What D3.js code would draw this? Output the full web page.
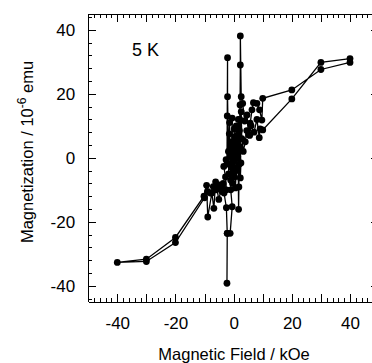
<!DOCTYPE html>
<html>
<head>
<meta charset="utf-8">
<script src="https://cdn.jsdelivr.net/npm/d3@7"></script>
<style>
  body { margin: 0; background: #fff; }
  svg { display: block; font-family: "Liberation Sans", Arial, Helvetica, sans-serif; }
  .axis path, .axis line { stroke: #000; stroke-width: 1; shape-rendering: crispEdges; }
  .axis text { font-size: 17px; fill: #000; }
</style>
</head>
<body>
<div id="chart"></div>
<script>
// M(H) loop at 5 K, in measurement order
const field = [40, 30, 20, 10, 9.7, 8.9, 8.0, 6.8, 6.3, 5.7, 5.1, 4.6, 3.8, 3.1, 2.6, 2.3, 2.3, 2.2, 2.0, 1.9,
  1.6, 1.4, 1.2, 1.0, 0.9, 0.7, 0.5, 0.3, 0.2, 0.0, -0.2, -0.4, -0.5, -0.7, -0.8, -1.0, -1.2, -1.4, -1.5, -1.7,
  -1.8, -2.1, -2.1, -2.2, -2.3, -2.6, -3.4, -2.8, -2.5, -3.6, -4.2, -5.1, -6.2, -6.8, -7.5, -8.9, -9.3, -10.2, -20, -30, -40,
  -30, -20, -10, -9.0, -8.0, -7.0, -6.0, -5.0, -4.0, -3.3, -2.5, -2.2, -2.3, -2.2, -1.2, -0.5, -1.0, -0.8, -0.3,
  0.0, 0.3, 0.6, 0.9, 1.1, 1.2, 1.5, 1.7, 1.8, 2.1, 2.3, 2.5, 2.2, 2.6, 2.8, 3.3, 4.0, 4.5, 5.5, 6.0,
  7.0, 8.0, 8.8, 9.1, 10.0, 20, 30, 40];
const moment = [29.8, 27.6, 21.2, 18.6, 11.8, 15.0, 17.0, 17.2, 15.0, 10.8, 7.2, 13.4, 11.5, 17.0, 19.1, 38.1, 29.0, 16.5, 8.5, -2.0,
  12.0, 0.5, 7.0, -4.0, 10.0, 1.5, 4.0, -6.0, 9.0, -1.0, 2.5, -8.0, 12.4, -3.0, 5.0, -7.0, 0.5, 11.0, 7.5, -5.0,
  2.0, 19.1, 31.3, 13.1, -2.0, -0.6, -2.7, -6.0, -10.0, -8.0, -9.5, -13.0, -7.5, -15.8, -11.0, -18.5, -8.6, -12.0, -24.9, -31.7, -32.7,
  -32.4, -26.5, -12.5, -10.5, -11.0, -9.0, -10.0, -8.5, -10.5, -11.0, -15.6, -23.6, -39.2, -23.6, -23.6, -15.3, -10.0, -2.0, 4.0,
  -5.0, 6.5, -9.4, -3.7, 9.0, 0.0, 5.0, -16.1, -9.1, 12.0, -6.3, -1.6, 3.5, 14.4, 6.0, 2.0, 5.0, 8.5, 7.0, 10.0,
  8.0, 12.0, 6.3, 9.0, 8.7, 18.4, 29.8, 31.0];

const xMajor = d3.range(-50, 51, 10);
const xMinor = d3.range(-50, 51, 2);
const yMajor = [-40, -20, 0, 20, 40];
const yMinor = d3.range(-44, 45, 4);

const W = 372, H = 363;
const svg = d3.select('#chart').append('svg').attr('width', W).attr('height', H);

const x = d3.scaleLinear().domain([-50, 50]).range([88.2, 379.1]);
const y = d3.scaleLinear().domain([-45, 45]).range([301.8, 13.8]);

const fmtX = d => (d % 20 === 0 && Math.abs(d) <= 40) ? d : '';

// bottom axis
svg.append('g').attr('class', 'axis').attr('transform', 'translate(0,' + y(-45) + ')')
  .call(d3.axisBottom(x).tickValues(xMinor).tickSizeInner(-4).tickSizeOuter(0).tickFormat(''));
svg.append('g').attr('class', 'axis').attr('transform', 'translate(0,' + y(-45) + ')')
  .call(d3.axisBottom(x).tickValues(xMajor).tickSizeInner(-8).tickSizeOuter(0).tickPadding(15).tickFormat(fmtX));
// top axis
svg.append('g').attr('class', 'axis').attr('transform', 'translate(0,' + y(45) + ')')
  .call(d3.axisTop(x).tickValues(xMinor).tickSizeInner(-4).tickSizeOuter(0).tickFormat(''));
svg.append('g').attr('class', 'axis').attr('transform', 'translate(0,' + y(45) + ')')
  .call(d3.axisTop(x).tickValues(xMajor).tickSizeInner(-8).tickSizeOuter(0).tickFormat(''));
// left axis
svg.append('g').attr('class', 'axis').attr('transform', 'translate(' + x(-50) + ',0)')
  .call(d3.axisLeft(y).tickValues(yMinor).tickSizeInner(-4).tickSizeOuter(0).tickFormat(''));
svg.append('g').attr('class', 'axis').attr('transform', 'translate(' + x(-50) + ',0)')
  .call(d3.axisLeft(y).tickValues(yMajor).tickSizeInner(-8).tickSizeOuter(0).tickPadding(13).tickFormat(d => d));
// right axis
svg.append('g').attr('class', 'axis').attr('transform', 'translate(' + x(50) + ',0)')
  .call(d3.axisRight(y).tickValues(yMinor).tickSizeInner(-4).tickSizeOuter(0).tickFormat(''));
svg.append('g').attr('class', 'axis').attr('transform', 'translate(' + x(50) + ',0)')
  .call(d3.axisRight(y).tickValues(yMajor).tickSizeInner(-8).tickSizeOuter(0).tickFormat(''));

const pts = field.map((f, i) => [f, moment[i]]);

const line = d3.line().x(d => x(d[0])).y(d => y(d[1]));
svg.append('path').datum(pts)
  .attr('d', line)
  .attr('fill', 'none')
  .attr('stroke', '#000')
  .attr('stroke-width', 1.3);

svg.selectAll('circle.pt').data(pts)
  .enter().append('circle')
  .attr('class', 'pt')
  .attr('cx', d => x(d[0]))
  .attr('cy', d => y(d[1]))
  .attr('r', 3.4)
  .attr('fill', '#000');

// labels
svg.append('text')
  .attr('x', 132).attr('y', 56)
  .attr('font-size', 18)
  .text('5 K');

svg.append('text')
  .attr('x', 234).attr('y', 360)
  .attr('text-anchor', 'middle')
  .attr('font-size', 16.5)
  .text('Magnetic Field / kOe');

const yt = svg.append('text')
  .attr('transform', 'translate(33,152) rotate(-90)')
  .attr('text-anchor', 'middle')
  .attr('font-size', 16.5);
yt.append('tspan').text('Magnetization / 10');
yt.append('tspan').attr('dy', -7).attr('font-size', 12).text('-6');
yt.append('tspan').attr('dy', 7).text(' emu');
</script>
</body>
</html>
